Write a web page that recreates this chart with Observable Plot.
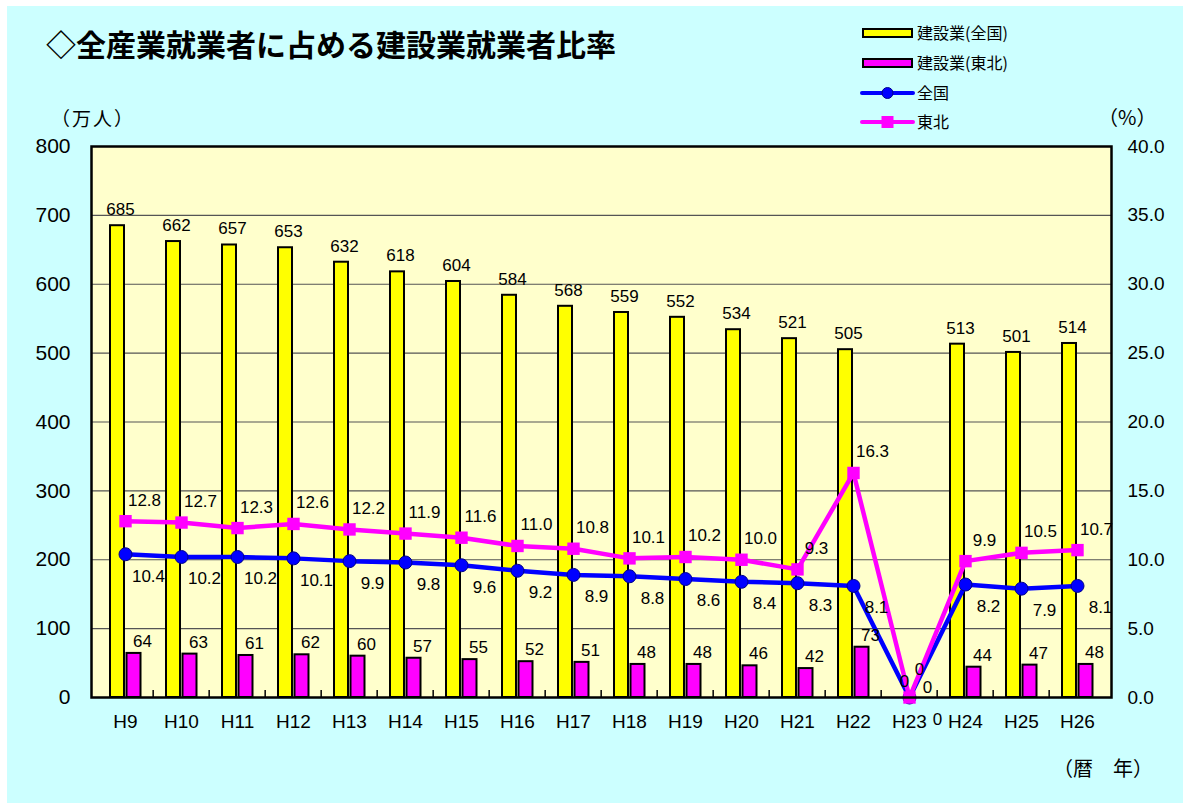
<!DOCTYPE html>
<html>
<head>
<meta charset="utf-8">
<script src="https://cdn.jsdelivr.net/npm/d3@7"></script>
<script src="https://cdn.jsdelivr.net/npm/@observablehq/plot@0.6"></script>
<style>
  body { margin: 0; background: #fff; }
  #wrap { position: relative; width: 1183px; height: 803px; background: #fff; overflow: hidden; }
  #bg { position: absolute; left: 7px; top: 6px; right: 0; bottom: 0; background: #ccffff; }
  #chart { position: absolute; left: 0; top: 0; }
  .jp { font-family: "Noto Sans CJK JP", sans-serif; color: #000; position: absolute; white-space: nowrap; }
  #title { left: 46px; top: 23px; font-size: 30px; font-weight: bold; line-height: 40px; }
  #legend { position: absolute; left: 855px; top: 14px; }
</style>
</head>
<body>
<div id="wrap">
  <div id="bg"></div>
  <div id="chart"></div>
  <div id="title" class="jp">◇全産業就業者に占める建設業就業者比率</div>
  <div class="jp" style="left:51px;top:104px;font-size:19px;letter-spacing:2px;">（万人）</div>
  <div class="jp" style="left:1098px;top:102px;font-size:20px;">（%）</div>
  <div class="jp" style="left:1053px;top:753px;font-size:20px;">（暦　年）</div>
  <svg id="legend" width="320" height="125"></svg>
</div>
<script>
// ---- data ----
const years = ["H9","H10","H11","H12","H13","H14","H15","H16","H17","H18","H19","H20","H21","H22","H23","H24","H25","H26"];
const kensetsuZenkoku = [685,662,657,653,632,618,604,584,568,559,552,534,521,505,0,513,501,514];
const kensetsuTohoku  = [64,63,61,62,60,57,55,52,51,48,48,46,42,73,0,44,47,48];
const ratioZenkoku = [10.4,10.2,10.2,10.1,9.9,9.8,9.6,9.2,8.9,8.8,8.6,8.4,8.3,8.1,0.0,8.2,7.9,8.1];
const ratioTohoku  = [12.8,12.7,12.3,12.6,12.2,11.9,11.6,11.0,10.8,10.1,10.2,10.0,9.3,16.3,0.0,9.9,10.5,10.7];
const leftTicks = [0,100,200,300,400,500,600,700,800];
const seriesNames = ["建設業(全国)","建設業(東北)","全国","東北"];

const data = years.map((y, i) => ({
  year: y, bz: kensetsuZenkoku[i], bt: kensetsuTohoku[i], rz: ratioZenkoku[i], rt: ratioTohoku[i]
}));
const main = data.filter(d => d.year !== "H23");
const gap = data.filter(d => d.year === "H23");

const W = 1183, H = 803;
const mL = 91, mR = 72, mT = 146, mB = 106;
const bw = (W - mL - mR) / years.length;
const k = 800 / 40; // percent axis maps 0-40 onto 0-800
const pctFmt = v => v === 0 ? "0" : v.toFixed(1);
const numFont = "Liberation Sans, Arial, sans-serif";
const fs = 17;

const chart = Plot.plot({
  width: W, height: H,
  marginLeft: mL, marginRight: mR, marginTop: mT, marginBottom: mB,
  style: { background: "transparent", fontFamily: numFont, color: "#000" },
  x: { type: "band", domain: years, paddingInner: 0, paddingOuter: 0 },
  y: { domain: [0, 800] },
  marks: [
    Plot.frame({ fill: "#ffffcc" }),
    Plot.ruleY(leftTicks.filter(t => t > 0 && t < 800), { stroke: "#555", strokeWidth: 1.2 }),
    Plot.ruleX(years.slice(1), { x: d => d, y1: 0, y2: 10, dx: -bw / 2, stroke: "#000", strokeWidth: 1.5 }),
    Plot.barY(data, { x: "year", y: "bz", fill: "#ffff00", stroke: "#000", strokeWidth: 2, insetLeft: 13, insetRight: 29 }),
    Plot.barY(data, { x: "year", y: "bt", fill: "#ff00ff", stroke: "#000", strokeWidth: 2, insetLeft: 29.5, insetRight: 12.5 }),
    Plot.line(data, { x: "year", y: d => d.rz * k, stroke: "#0000ff", strokeWidth: 4.5 }),
    Plot.dot(data, { x: "year", y: d => d.rz * k, r: 6.5, fill: "#0000ff", stroke: "#00008b", strokeWidth: 1 }),
    Plot.line(data, { x: "year", y: d => d.rt * k, stroke: "#ff00ff", strokeWidth: 4.5 }),
    Plot.dot(data, { x: "year", y: d => d.rt * k, symbol: "square", r: 7, fill: "#ff00ff" }),
    // value labels
    Plot.text(data, { x: "year", y: "bz", text: d => String(d.bz), dx: -5, dy: -16, fontSize: fs }),
    Plot.text(main, { x: "year", y: "bt", text: d => String(d.bt), dx: 17, dy: -12, fontSize: fs }),
    Plot.text(main, { x: "year", y: d => d.rt * k, text: d => pctFmt(d.rt), dx: 19, dy: -21, fontSize: fs }),
    Plot.text(main, { x: "year", y: d => d.rz * k, text: d => pctFmt(d.rz), dx: 23, dy: 22, fontSize: fs }),
    // H23 (no data) labels, nudged like the reference
    Plot.text(gap, { x: "year", y: "bt", text: d => String(d.bt), dx: 18, dy: -10, fontSize: fs }),
    Plot.text(gap, { x: "year", y: d => d.rt * k, text: d => pctFmt(d.rt), dx: 10, dy: -28, fontSize: fs }),
    Plot.text(gap, { x: "year", y: d => d.rz * k, text: d => pctFmt(d.rz), dx: 28, dy: 22, fontSize: fs }),
    Plot.frame({ stroke: "#000", strokeWidth: 2.5 }),
    Plot.axisY({ anchor: "left", ticks: leftTicks, tickSize: 0, tickPadding: 21, fontSize: 21, label: null }),
    Plot.axisY({ anchor: "right", ticks: leftTicks, tickFormat: d => (d / k).toFixed(1), tickSize: 0, tickPadding: 16, fontSize: 19, label: null }),
    Plot.axisX({ anchor: "bottom", tickSize: 0, tickPadding: 17, fontSize: 19, label: null })
  ]
});
document.getElementById("chart").appendChild(chart);

// ---- legend ----
const lg = d3.select("#legend");
const rowsY = [19, 49, 79, 108];
const sx0 = 8, sx1 = 57;
lg.append("rect").attr("x", sx0).attr("y", rowsY[0] - 4).attr("width", sx1 - sx0).attr("height", 8)
  .attr("fill", "#ffff00").attr("stroke", "#000").attr("stroke-width", 2);
lg.append("rect").attr("x", sx0).attr("y", rowsY[1] - 4).attr("width", sx1 - sx0).attr("height", 8)
  .attr("fill", "#ff00ff").attr("stroke", "#000").attr("stroke-width", 2);
lg.append("line").attr("x1", sx0 - 1).attr("x2", sx1 + 1).attr("y1", rowsY[2]).attr("y2", rowsY[2])
  .attr("stroke", "#0000ff").attr("stroke-width", 4).attr("stroke-linecap", "round");
lg.append("circle").attr("cx", (sx0 + sx1) / 2).attr("cy", rowsY[2]).attr("r", 5.5)
  .attr("fill", "#0000ff").attr("stroke", "#00008b");
lg.append("line").attr("x1", sx0 - 1).attr("x2", sx1 + 1).attr("y1", rowsY[3]).attr("y2", rowsY[3])
  .attr("stroke", "#ff00ff").attr("stroke-width", 4).attr("stroke-linecap", "round");
lg.append("rect").attr("x", (sx0 + sx1) / 2 - 6).attr("y", rowsY[3] - 6).attr("width", 12).attr("height", 12)
  .attr("fill", "#ff00ff");
seriesNames.forEach((n, i) => {
  lg.append("text").attr("x", 62).attr("y", rowsY[i]).attr("dy", "0.35em")
    .attr("font-family", "Noto Sans CJK JP, sans-serif").attr("font-size", 16).attr("fill", "#000")
    .text(n);
});
</script>
</body>
</html>
